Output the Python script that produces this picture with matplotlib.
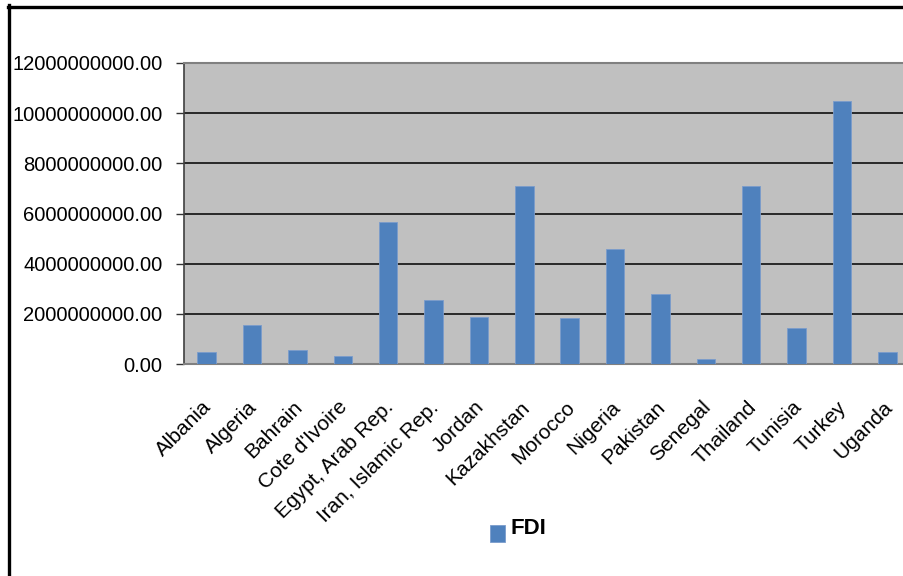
import matplotlib.pyplot as plt
from matplotlib.lines import Line2D
from matplotlib.patches import Rectangle
import matplotlib.ticker as mticker
import matplotlib.transforms as mtransforms
import numpy as np

countries = ["Albania", "Algeria", "Bahrain", "Cote d'Ivoire", "Egypt, Arab Rep.",
             "Iran, Islamic Rep.", "Jordan", "Kazakhstan", "Morocco", "Nigeria",
             "Pakistan", "Senegal", "Thailand", "Tunisia", "Turkey", "Uganda"]
fdi = [0.46e9, 1.55e9, 0.56e9, 0.30e9, 5.66e9, 2.55e9, 1.87e9, 7.08e9,
       1.82e9, 4.57e9, 2.81e9, 0.20e9, 7.08e9, 1.45e9, 10.47e9, 0.46e9]
y_ticks = [0, 2e9, 4e9, 6e9, 8e9, 10e9, 12e9]

plt.rcParams['font.family'] = ['Liberation Sans', 'DejaVu Sans']

fig = plt.figure(figsize=(9.04, 5.76), dpi=100)
ax = fig.add_axes([184 / 904, 1 - 364 / 576, 726 / 904, 301 / 576])
ax.set_facecolor('#c0c0c0')

x = np.arange(len(countries))
ax.bar(x, fdi, width=0.41, color='#4f81bd', edgecolor='#7a9ccc', linewidth=0.6, zorder=3)

ax.set_xlim(-0.5, len(countries) - 0.5)
ax.set_ylim(0, 12e9)
ax.set_yticks(y_ticks)
ax.yaxis.set_major_formatter(mticker.FormatStrFormatter('%.2f'))
ax.grid(axis='y', color='black', linewidth=1.1, zorder=1)
ax.set_axisbelow(True)

ax.set_xticks(x)
ax.set_xticklabels(countries, rotation=45, ha='right', va='center',
                   rotation_mode='anchor', fontsize=15)
ax.tick_params(axis='x', length=0, pad=29)
ax.tick_params(axis='y', length=6, width=1, color='#333333', labelsize=14.5, pad=9.5)

# nudge the slanted labels a little to the right
shift = mtransforms.ScaledTranslation(2 / 100, 0, fig.dpi_scale_trans)
for lbl in ax.get_xticklabels():
    lbl.set_transform(lbl.get_transform() + shift)

for s in ['top', 'right', 'bottom']:
    ax.spines[s].set_color('#808080')
    ax.spines[s].set_linewidth(1.5)
ax.spines['left'].set_color('#404040')
ax.spines['left'].set_linewidth(1.2)

# legend drawn by hand below the axis labels
fig.add_artist(Rectangle((490 / 904, 1 - 542 / 576), 15 / 904, 17 / 576,
                         transform=fig.transFigure, facecolor='#4f81bd',
                         edgecolor='#7a9ccc', linewidth=0.6))
fig.text(510 / 904, 1 - 534 / 576, 'FDI', fontsize=16, fontweight='bold',
         ha='left', va='baseline')

# outer frame
fig.add_artist(Line2D([8.5 / 904, 8.5 / 904], [0, 1 - 5 / 576],
                      transform=fig.transFigure, color='black', linewidth=2.4))
fig.add_artist(Line2D([7.5 / 904, 1], [1 - 6.5 / 576, 1 - 6.5 / 576],
                      transform=fig.transFigure, color='black', linewidth=2.4))

fig.savefig('out.png', dpi=100)
